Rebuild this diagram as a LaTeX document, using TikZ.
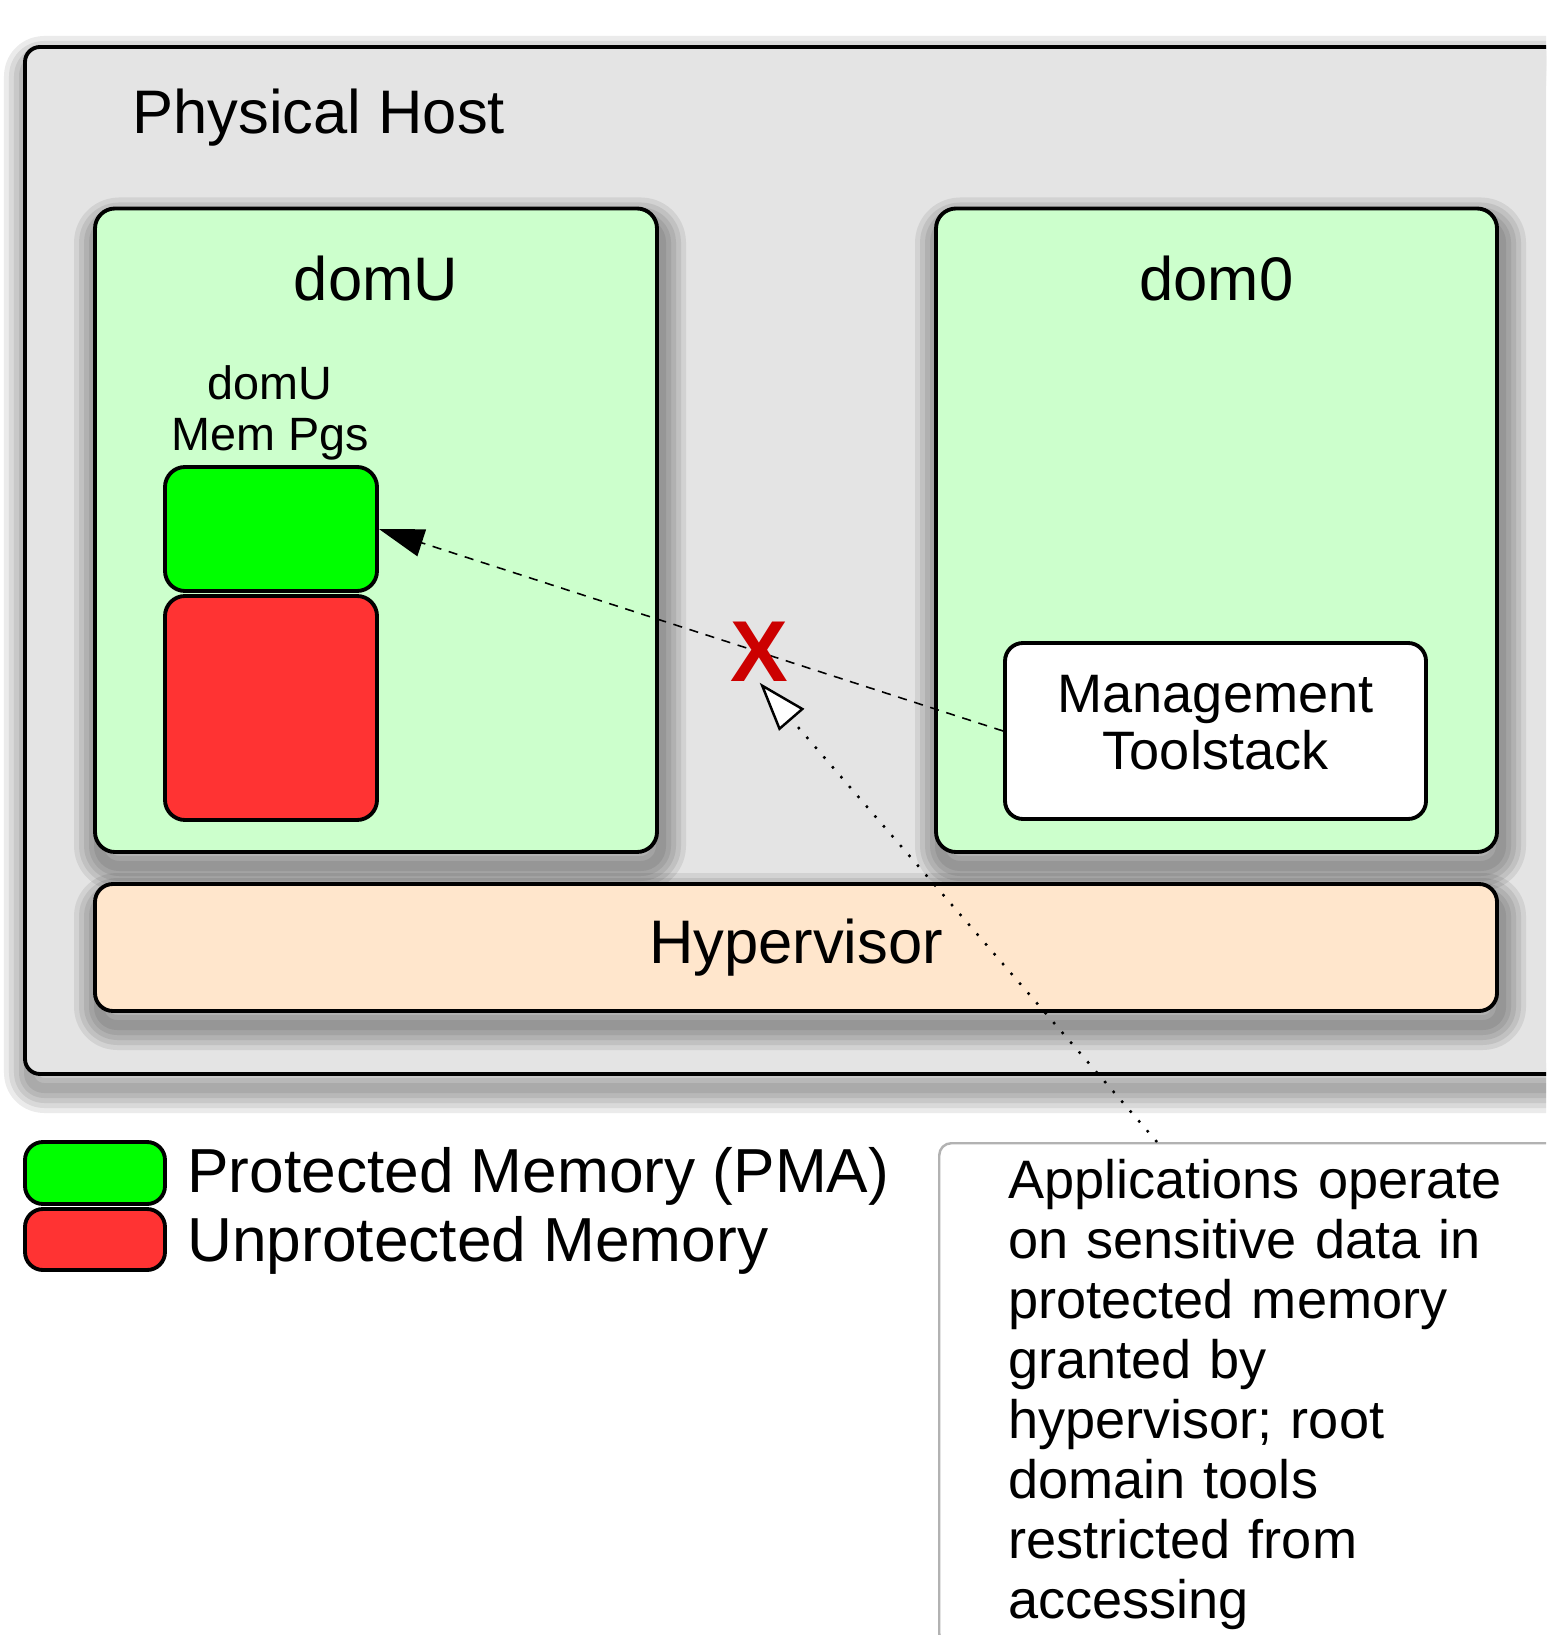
\documentclass[tikz,border=0pt]{standalone}
\usepackage{fontspec}
\setmainfont{Liberation Sans}
\usetikzlibrary{arrows.meta}

\definecolor{hostgray}{HTML}{E4E4E4}
\definecolor{domgreen}{HTML}{CCFFCC}
\definecolor{pmagreen}{HTML}{00FF00}
\definecolor{nonred}{HTML}{FF3333}
\definecolor{hypbeige}{HTML}{FFE6CC}
\definecolor{denyred}{HTML}{CC0000}

\tikzset{
  box/.style={draw, line width=1.1pt, inner sep=0pt},
  shadowring/.style={preaction={draw=black, draw opacity=0.08, line width=#1,
      line join=round, transform canvas={xshift=0.4mm, yshift=-1.4mm}}},
  softshadow/.style={shadowring=5mm, shadowring=4mm, shadowring=3mm,
      shadowring=2mm, shadowring=1mm},
  bigtext/.style={font=\fontsize{17.5}{21}\selectfont},
  midtext/.style={font=\fontsize{15.4}{16.3}\selectfont},
}

\begin{document}
\begin{tikzpicture}
    \clip (0,0) rectangle (15.46,-16.35);
    \node[box, softshadow, fill=hostgray, rounded corners=0.15cm,
      minimum width=16cm, minimum height=10.27cm] (host) at (8.25,-5.605) {};
    \node[bigtext, anchor=west] (hostlbl) at (1.2,-1.18) {Physical Host};

    \node[box, softshadow, fill=domgreen, rounded corners=0.2cm,
      minimum width=5.62cm, minimum height=6.435cm] (domU) at (3.76,-5.3025) {};
    \node[box, softshadow, fill=domgreen, rounded corners=0.2cm,
      minimum width=5.61cm, minimum height=6.435cm] (dom0) at (12.165,-5.3025) {};
    \node[bigtext] (domUlbl) at (3.76,-2.79) {domU};
    \node[bigtext] (dom0lbl) at (12.165,-2.79) {dom0};

    \node[font=\fontsize{13.3}{14.5}\selectfont, align=center] (pgslbl) at (2.70,-4.125) {domU\\Mem Pgs};
    \node[box, fill=pmagreen, rounded corners=0.2cm,
      minimum width=2.12cm, minimum height=1.24cm] (pma) at (2.71,-5.29) {};
    \node[box, fill=nonred, rounded corners=0.2cm,
      minimum width=2.12cm, minimum height=2.24cm] (nonpma) at (2.71,-7.08) {};

    \node[box, fill=white, rounded corners=0.18cm,
      minimum width=4.21cm, minimum height=1.76cm] (mgmt) at (12.155,-7.31) {};
    \node[midtext, align=center] (mgmtlbl) at (12.155,-7.23) {Management\\Toolstack};

    \node[box, softshadow, bigtext, fill=hypbeige, rounded corners=0.18cm,
      minimum width=14.02cm, minimum height=1.27cm] (hyp) at (7.96,-9.475) {Hypervisor};

    \draw[line width=0.45pt, dash pattern=on 2.6pt off 2.2pt,
      -{Triangle[length=4.5mm, width=2.8mm]}] (mgmt.west) --
      node[pos=0.39, inner sep=0pt, text=denyred,
        font=\fontsize{24.6}{26}\selectfont\bfseries] (deny) {X} (pma.east);

    \node[box, fill=pmagreen, rounded corners=0.18cm,
      minimum width=1.40cm, minimum height=0.62cm] (lgpma) at (0.95,-11.73) {};
    \node[box, fill=nonred, rounded corners=0.18cm,
      minimum width=1.40cm, minimum height=0.61cm] (lgnon) at (0.95,-12.395) {};
    \node[font=\fontsize{17.7}{21}\selectfont, anchor=west] (lgpmalbl) at (1.75,-11.76) {Protected Memory (PMA)};
    \node[font=\fontsize{17.7}{21}\selectfont, anchor=west] (lgnonlbl) at (1.75,-12.45) {Unprotected Memory};

    \node[draw=gray!60, line width=0.7pt, fill=white, rounded corners=0.12cm,
      anchor=north west, align=left, text width=5.6cm, inner xsep=0.69cm, inner ysep=0.16cm,
      font=\fontsize{15.4}{17.07}\selectfont] (note) at (9.38,-11.42)
      {Applications operate\\on sensitive data in\\protected memory\\granted by\\hypervisor; root\\domain tools\\restricted from\\accessing};
    \coordinate (notetop) at ([xshift=2.19cm]note.north west);
    \draw[line width=0.7pt, dash pattern=on 0.7pt off 3pt,
      -{Triangle[fill=white, length=4.9mm, width=3.3mm]}] (notetop) -- (deny.south);
\end{tikzpicture}
\end{document}
